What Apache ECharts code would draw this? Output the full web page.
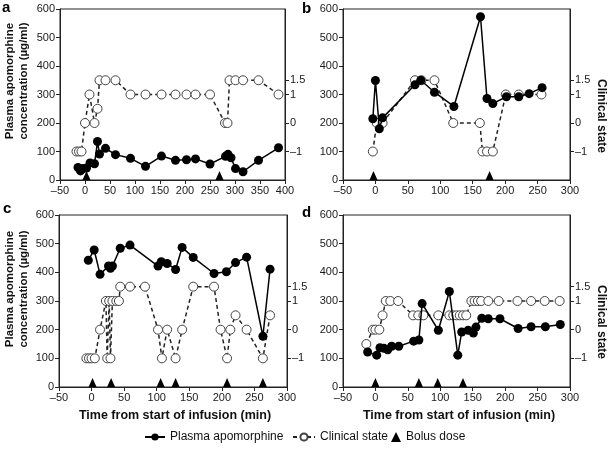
<!DOCTYPE html>
<html><head><meta charset="utf-8">
<script src="https://cdn.jsdelivr.net/npm/echarts@6/dist/echarts.min.js"></script>
<style>html,body{margin:0;padding:0;background:#fff}#c{width:609px;height:454px}</style>
</head><body><div id="c"></div>
<script>
// Panel a
const aPlasma = [[-14,44],[-9,32],[-4,40],[3,42],[10,60],[19,57],[25,135],[29,91],[41,111],[61,89],[91,76],[121,48],[153,84],[181,69],[203,71],[221,74],[250,56],[281,83],[286,90],[292,78],[301,40],[316,29],[347,69],[387,113]];
const aClinical = [[-17,-1],[-12,-1],[-7,-1],[0,0],[9,1],[19,0],[25,0.5],[29,1.5],[41,1.5],[61,1.5],[91,1],[121,1],[153,1],[181,1],[203,1],[221,1],[250,1],[280,0],[285,0],[289,1.5],[301,1.5],[316,1.5],[347,1.5],[387,1]];
const aBolus = [3, 269];
// Panel b
const bPlasma = [[-4,215],[0,349],[6,180],[11,218],[61,334],[70,350],[91,308],[121,258],[162,573],[172,286],[181,268],[202,292],[221,292],[237,303],[257,324]];
const bClinical = [[-4,-1],[2,0],[11,0],[61,1.5],[71,1.5],[91,1.5],[120,0],[161,0],[165,-1],[172,-1],[181,-1],[201,1],[221,1],[256,1]];
const bBolus = [-3, 176];
// Panel c
const cPlasma = [[-5,442],[4,478],[13,393],[26,422],[29,414],[32,422],[44,484],[59,495],[102,422],[107,437],[116,431],[129,410],[139,487],[156,452],[188,396],[207,402],[221,434],[238,453],[263,177],[274,411]];
const cClinical = [[-8,-1],[-4,-1],[0,-1],[5,-1],[13,0],[22,1],[24,-1],[27,1],[29,-1],[32,1],[38,1],[42,1],[44,1.5],[59,1.5],[82,1.5],[102,0],[108,-1],[116,0],[129,-1],[139,0],[156,1.5],[188,1.5],[198,0],[208,-1],[213,0],[221,0.5],[238,0],[263,-1],[274,0.5]];
const cBolus = [1.5, 30, 106, 129, 208, 263];
// Panel d
const dPlasma = [[-12,122],[2,111],[7,137],[13,135],[19,130],[25,142],[36,142],[59,160],[67,164],[72,291],[97,198],[114,333],[127,111],[133,192],[143,198],[151,188],[155,209],[164,240],[174,238],[192,238],[220,204],[240,210],[262,210],[285,218]];
const dClinical = [[-14,-0.5],[-4,0],[0,0],[6,0],[11,0.5],[16,1],[23,1],[35,1],[58,0.5],[66,0.5],[74,0.5],[97,0.5],[114,0.5],[120,0.5],[125,0.5],[130,0.5],[135,0.5],[140,0.5],[148,1],[153,1],[158,1],[163,1],[174,1],[190,1],[219,1],[240,1],[261,1],[284,1]];
const dBolus = [0, 67, 96, 135];

const rightTicks = [-1,0,1,1.5];
const xName = 'Time from start of infusion (min)';
const yName = 'Plasma apomorphine\nconcentration (µg/ml)';
const rName = 'Clinical state';

const panels = [
  {p: aPlasma, c: aClinical, b: aBolus, xmax: 400, grid: {left: 60, top: 9, width: 225, height: 171}},
  {p: bPlasma, c: bClinical, b: bBolus, xmax: 300, grid: {left: 343, top: 9, width: 227, height: 171}},
  {p: cPlasma, c: cClinical, b: cBolus, xmax: 300, grid: {left: 59, top: 215, width: 228, height: 172}},
  {p: dPlasma, c: dClinical, b: dBolus, xmax: 300, grid: {left: 343, top: 215, width: 227, height: 172}}
];

const font = 'Liberation Sans, Arial, sans-serif';
const txt = '#1a1a1a';
const axLine = {show: true, onZero: false, lineStyle: {color: '#222', width: 1}};
const tick = {show: true, length: 4, lineStyle: {color: '#222'}};
const dash = v => v < 0 ? '\u2013' + Math.abs(v) : String(v);
const grids = [], xAxes = [], yAxes = [], series = [];
panels.forEach((P, i) => {
  grids.push(Object.assign({show: true, borderColor: '#222', borderWidth: 1, containLabel: false}, P.grid));
  xAxes.push({type: 'value', gridIndex: i, min: -50, max: P.xmax, interval: 50,
    axisLine: axLine, axisTick: tick, splitLine: {show: false},
    axisLabel: {fontFamily: font, fontSize: 11, color: txt, margin: 5, formatter: dash}});
  yAxes.push({type: 'value', gridIndex: i, min: 0, max: 600, interval: 100, position: 'left',
    axisLine: axLine, axisTick: tick, splitLine: {show: false},
    axisLabel: {fontFamily: font, fontSize: 11, color: txt, margin: 5}});
  yAxes.push({type: 'value', gridIndex: i, min: -2, max: 4, position: 'right',
    axisLine: axLine,
    axisTick: Object.assign({customValues: rightTicks}, tick),
    splitLine: {show: false},
    axisLabel: {fontFamily: font, fontSize: 11, color: txt, margin: 5, customValues: rightTicks, formatter: dash}});
  series.push({name: 'Clinical state', type: 'line', xAxisIndex: i, yAxisIndex: 2 * i + 1,
    data: P.c, symbol: 'circle', symbolSize: 9, z: 2,
    lineStyle: {color: '#222', width: 1.5, type: [4, 3]},
    itemStyle: {color: '#fff', borderColor: '#444', borderWidth: 1}});
  series.push({name: 'Plasma apomorphine', type: 'line', xAxisIndex: i, yAxisIndex: 2 * i,
    data: P.p, symbol: 'circle', symbolSize: 9, z: 3,
    lineStyle: {color: '#000', width: 1.5},
    itemStyle: {color: '#000', borderColor: '#000', borderWidth: 0}});
  series.push({name: 'Bolus dose', type: 'scatter', xAxisIndex: i, yAxisIndex: 2 * i,
    data: P.b.map(x => [x, 0]), symbol: 'triangle', symbolSize: [8, 9], symbolOffset: [0, -4.5],
    clip: false, z: 4, itemStyle: {color: '#000', opacity: 1}});
});

const nameStyle = {font: 'bold 11.5px ' + font, fill: '#111', align: 'center', verticalAlign: 'middle', lineHeight: 14};
const rStyle = {font: 'bold 12px ' + font, fill: '#111', align: 'center', verticalAlign: 'middle'};
const xStyle = {text: xName, font: 'bold 12.5px ' + font, fill: '#111', align: 'center', verticalAlign: 'middle'};
const graphic = [
  {type: 'text', left: 2, top: 0, style: {text: 'a', font: 'bold 15px ' + font, fill: '#000'}},
  {type: 'text', left: 302, top: 1, style: {text: 'b', font: 'bold 15px ' + font, fill: '#000'}},
  {type: 'text', left: 3, top: 201, style: {text: 'c', font: 'bold 15px ' + font, fill: '#000'}},
  {type: 'text', left: 302, top: 205, style: {text: 'd', font: 'bold 15px ' + font, fill: '#000'}},
  {type: 'text', x: 16.5, y: 81, rotation: Math.PI / 2, style: Object.assign({text: yName}, nameStyle)},
  {type: 'text', x: 16.5, y: 289, rotation: Math.PI / 2, style: Object.assign({text: yName}, nameStyle)},
  {type: 'text', x: 601, y: 116, rotation: -Math.PI / 2, style: Object.assign({text: rName}, rStyle)},
  {type: 'text', x: 601, y: 322, rotation: -Math.PI / 2, style: Object.assign({text: rName}, rStyle)},
  {type: 'text', x: 175, y: 416, style: xStyle},
  {type: 'text', x: 459, y: 416, style: xStyle}
];

const legText = {fontFamily: font, fontSize: 12, color: '#111'};
const chart = echarts.init(document.getElementById('c'), null, {renderer: 'canvas'});
chart.setOption({
  animation: false,
  backgroundColor: '#fff',
  grid: grids, xAxis: xAxes, yAxis: yAxes, series: series, graphic: graphic,
  legend: [
    {left: 144, top: 431, itemWidth: 20, itemHeight: 9, itemGap: 0, padding: 0, data: ['Plasma apomorphine'], textStyle: legText},
    {left: 292, top: 431, itemWidth: 22, itemHeight: 9, itemGap: 0, padding: 0, data: ['Clinical state'], textStyle: legText},
    {left: 391, top: 431, itemWidth: 10, itemHeight: 10, itemGap: 0, padding: 0, data: ['Bolus dose'], textStyle: legText}
  ]
});
</script></body></html>
